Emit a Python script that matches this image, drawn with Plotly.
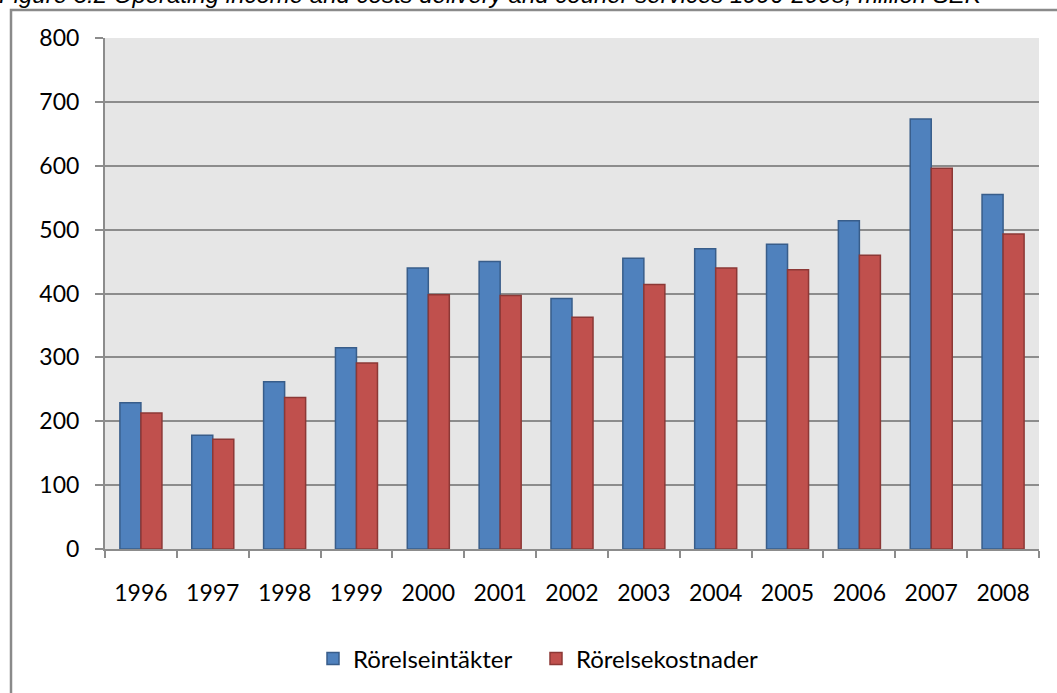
import plotly.graph_objects as go

years = ["1996", "1997", "1998", "1999", "2000", "2001", "2002", "2003", "2004", "2005", "2006", "2007", "2008"]
income = [229, 178, 262, 315, 440, 450, 392, 455, 470, 477, 514, 673, 555]
costs = [213, 172, 237, 291, 398, 397, 363, 414, 440, 437, 460, 596, 493]
name_income = "Rörelseintäkter"
name_costs = "Rörelsekostnader"
title_text = "Figure 3.2 Operating income and costs delivery and courier services 1996-2008, million SEK"
y_ticks = [0, 100, 200, 300, 400, 500, 600, 700, 800]

W, H = 1057, 693
L, R, T, B = 105, 1039, 38, 549
pw, ph = R - L, B - T

def px_x(p):
    return (p - L) / pw

def px_y(p):
    return (B - p) / ph

fig = go.Figure()
fig.add_trace(go.Bar(x=years, y=income, name=name_income,
                     marker=dict(color="#4f81bd", line=dict(color="#385d8a", width=1.5))))
fig.add_trace(go.Bar(x=years, y=costs, name=name_costs,
                     marker=dict(color="#c0504d", line=dict(color="#8c3836", width=1.5))))

font_fam = "Lato, 'Open Sans', sans-serif"

fig.update_layout(
    width=W, height=H,
    margin=dict(l=L, r=W - R, t=T, b=H - B, autoexpand=False),
    paper_bgcolor="white",
    plot_bgcolor="#e6e6e6",
    barmode="group",
    bargap=0.415,
    bargroupgap=0.0,
    showlegend=True,
    legend=dict(orientation="h", x=px_x(313), xanchor="left", y=px_y(659), yanchor="middle",
                font=dict(family=font_fam, size=24, color="black"),
                itemwidth=30, traceorder="normal",
                entrywidth=178, entrywidthmode="pixels"),
    font=dict(family=font_fam, color="black"),
)

fig.update_xaxes(
    type="category",
    showline=True, linecolor="#8c8c8c", linewidth=2,
    ticks="outside", tickson="boundaries", ticklen=7, tickcolor="#8c8c8c", tickwidth=2,
    tickfont=dict(family=font_fam, size=23, color="black"),
    ticklabelstandoff=22,
    showgrid=False,
)
fig.update_yaxes(
    range=[0, 800], tickvals=y_ticks,
    showline=True, linecolor="#8c8c8c", linewidth=2,
    ticks="outside", ticklen=8, tickcolor="#8c8c8c", tickwidth=2,
    tickfont=dict(family=font_fam, size=23, color="black"),
    ticklabelstandoff=11,
    showgrid=True, gridcolor="#8c8c8c", gridwidth=2,
    zeroline=False,
)

# outer chart border
fig.add_shape(type="rect", xref="paper", yref="paper",
              x0=px_x(11), x1=px_x(1080), y0=px_y(720), y1=px_y(10),
              line=dict(color="#8a8a8a", width=2.5), fillcolor="rgba(0,0,0,0)", layer="below")

# title (partially cut at the top, as in the reference)
fig.add_annotation(text=title_text, xref="paper", yref="paper",
                   x=px_x(-3), xanchor="left", y=px_y(-5), yanchor="middle",
                   showarrow=False,
                   font=dict(family="Arial, 'Liberation Sans', sans-serif", size=24, color="black", style="italic"))

fig.write_html("out.html", config={"displayModeBar": False},
               post_script="document.body.style.margin='0';document.body.style.overflow='hidden';")
